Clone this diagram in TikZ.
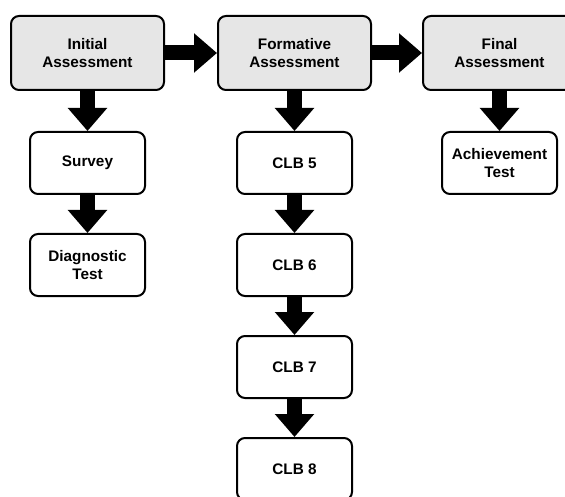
\documentclass[tikz,border=0pt]{standalone}
\usepackage{fontspec}
\setmainfont{Liberation Sans}
\usepackage{tikz}
\usetikzlibrary{arrows.meta,positioning}
\definecolor{boxgray}{RGB}{230,230,230}
\tikzstyle{every node}=[font=\fontsize{15.3}{18}\selectfont\bfseries]
\tikzstyle{stage}=[rectangle,
                   rounded corners=8pt,
                   line width=2pt,
                   draw=black,
                   fill=boxgray,
                   align=center,
                   minimum width=153pt,
                   minimum height=74pt
                   ]
\tikzstyle{task}=[rectangle,
                  rounded corners=8pt,
                  line width=2pt,
                  draw=black,
                  fill=white,
                  align=center,
                  minimum width=115pt,
                  minimum height=62pt]
\tikzstyle{fat}=[line width=15pt,
                 -{Triangle[length=23pt,width=38pt]}]

\begin{document}
\begin{tikzpicture}[x=1pt,y=1pt,node distance=38pt]
\clip (0,0) rectangle (565,-497);
\node (initial)   [stage] at (87.5,-53) {Initial\\Assessment};
\node (formative) [stage,right=52pt of initial] {Formative\\Assessment};
\node (final)     [stage,right=50pt of formative] {Final\\Assessment};
\node (survey)    [task,below=40pt of initial] {Survey};
\node (diag)      [task,below=of survey] {Diagnostic\\Test};
\node (clb5)      [task,below=40pt of formative] {CLB 5};
\node (clb6)      [task,below=of clb5] {CLB 6};
\node (clb7)      [task,below=of clb6] {CLB 7};
\node (clb8)      [task,below=of clb7] {CLB 8};
\node (achieve)   [task,below=40pt of final] {Achievement\\Test};
 \path[fat] (initial) edge (formative);
 \path[fat] (formative) edge (final);
 \path[fat] (initial) edge (survey);
 \path[fat] (survey) edge (diag);
 \path[fat] (formative) edge (clb5);
 \path[fat] (clb5) edge (clb6);
 \path[fat] (clb6) edge (clb7);
 \path[fat] (clb7) edge (clb8);
 \path[fat] (final) edge (achieve);
\end{tikzpicture}
\end{document}
